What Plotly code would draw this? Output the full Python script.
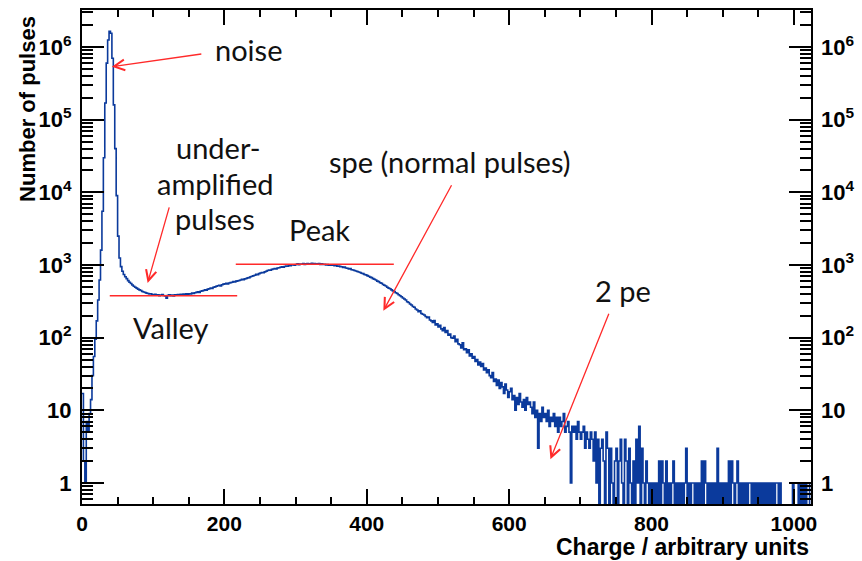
import numpy as np
import plotly.graph_objects as go

# ---------------- data ----------------
BIN_WIDTH = 2          # charge units per histogram bin
X_MAX = 1024
# counts per bin, 5 bins (10 charge units) per row
count_rows = [
    [17, 2, 1, 7, 5],                                   # 0-10
    [9, 14, 30, 55, 95],
    [170, 330, 620, 1600, 5500],
    [30000, 170000, 600000, 1250000, 1650000],
    [1550000, 700000, 160000, 40000, 9000],
    [2500, 1250, 950, 820, 740],                        # 50-60
    [690, 650, 610, 580, 555],
    [530, 510, 495, 480, 465],
    [455, 445, 432, 425, 418],
    [410, 405, 398, 400, 392],
    [388, 395, 383, 390, 378],                          # 100-110
    [386, 392, 380, 375, 350],
    [382, 388, 379, 385, 376],
    [390, 383, 392, 386, 395],
    [389, 398, 392, 400, 396],
    [402, 398, 410, 405, 415],                          # 150-160
    [420, 428, 418, 435, 440],
    [445, 455, 448, 465, 470],
    [482, 475, 495, 500, 510],
    [518, 525, 515, 535, 545],
    [550, 558, 548, 565, 572],                          # 200-210
    [580, 590, 582, 600, 605],
    [612, 620, 635, 628, 645],
    [652, 665, 670, 690, 700],
    [712, 722, 745, 738, 760],
    [775, 790, 782, 805, 820],                          # 250-260
    [840, 852, 845, 870, 880],
    [892, 885, 910, 918, 930],
    [942, 935, 955, 965, 960],
    [985, 975, 998, 1005, 990],
    [1015, 1040, 1010, 1030, 1025],                     # 300-310
    [1045, 1020, 1035, 1050, 1030],
    [1040, 1055, 1025, 1045, 1035],
    [1030, 1050, 1020, 1035, 1015],
    [1025, 1005, 1015, 995, 1010],
    [990, 1000, 975, 985, 960],                         # 350-360
    [970, 950, 945, 925, 935],
    [910, 900, 880, 890, 860],
    [855, 840, 825, 815, 800],
    [790, 770, 760, 740, 730],
    [715, 700, 680, 670, 650],                          # 400-410
    [635, 620, 600, 590, 570],
    [560, 540, 525, 515, 495],
    [480, 470, 455, 440, 430],
    [415, 405, 390, 378, 365],
    [352, 340, 330, 312, 305],                          # 450-460
    [290, 282, 268, 262, 248],
    [240, 228, 235, 215, 210],
    [205, 195, 188, 192, 175],
    [170, 162, 172, 150, 155],
    [140, 148, 132, 125, 138],                          # 500-510
    [118, 125, 108, 112, 100],
    [98, 105, 88, 95, 82],
    [80, 72, 85, 68, 70],
    [62, 68, 56, 60, 52],
    [55, 47, 50, 42, 46],                               # 550-560
    [40, 44, 36, 38, 33],
    [36, 30, 28, 33, 25],
    [27, 22, 26, 20, 24],
    [21, 17, 23, 19, 15],
    [18, 20, 14, 16, 10],                               # 600-610
    [15, 12, 17, 13, 11],
    [14, 10, 15, 12, 13],
    [11, 9, 13, 8, 10],
    [3, 9, 7, 11, 8],
    [9, 7, 10, 6, 8],                                   # 650-660
    [7, 9, 6, 8, 5],
    [8, 6, 7, 9, 5],
    [6, 7, 5, 1, 6],
    [5, 6, 4, 7, 5],
    [4, 5, 6, 3, 5],                                    # 700-710
    [4, 3, 5, 4, 2],
    [5, 1, 4, 0, 3],
    [4, 2, 0, 5, 3],
    [0, 3, 1, 0, 2],
    [3, 0, 2, 4, 1],                                    # 750-760
    [0, 4, 2, 0, 3],
    [1, 0, 2, 0, 4],
    [1, 6, 0, 3, 1],
    [0, 2, 1, 0, 1],
    [0, 1, 0, 1, 0],                                    # 800-810
    [2, 0, 2, 1, 0],
    [2, 0, 1, 0, 1],
    [2, 0, 1, 0, 1],
    [0, 1, 0, 1, 3],
    [0, 1, 0, 1, 1],                                    # 850-860
    [0, 1, 0, 1, 0],
    [2, 0, 2, 1, 0],
    [1, 0, 1, 0, 1],
    [0, 3, 0, 1, 0],
    [1, 0, 1, 0, 2],                                    # 900-910
    [0, 2, 1, 0, 1],
    [2, 0, 1, 0, 1],
    [0, 1, 0, 1, 1],
    [0, 1, 0, 1, 0],
    [1, 0, 1, 0, 1],                                    # 950-960
    [0, 1, 0, 1, 0],
    [1, 0, 1, 1, 0],
    [1, 0, 0, 0, 0],
    [0, 0, 0, 0, 1],
    [0, 0, 0, 1, 0],                                    # 1000-1010
    [1, 0, 1, 0, 1],
    [1, 0],                                             # 1020-1024
]

x_tick_vals = [0, 200, 400, 600, 800, 1000]
x_tick_text = ["0", "200", "400", "600", "800", "1000"]
y_tick_vals = [1, 10, 100, 1000, 10000, 100000, 1000000]
y_tick_text = ["1", "10", "10<sup>2</sup>", "10<sup>3</sup>", "10<sup>4</sup>",
               "10<sup>5</sup>", "10<sup>6</sup>"]

peak_level = 1025
peak_x = [216, 438]
valley_level = 376
valley_x = [39, 218]

# ---------------- build ----------------
counts = np.array([v for row in count_rows for v in row], dtype=float)
edges = np.arange(0, X_MAX + BIN_WIDTH, BIN_WIDTH)
assert len(counts) == len(edges) - 1, (len(counts), len(edges))

y_draw = np.where(counts > 0, counts, 0.05)   # empty bins drop to the bottom
xs = np.append(edges[:-1], edges[-1])
ys = np.append(y_draw, y_draw[-1])

BLUE = "#0b3a9c"
RED = "#ff2a2a"

fig = go.Figure()
fig.add_trace(go.Scatter(x=xs, y=ys, mode="lines", line=dict(color=BLUE, width=1.6, shape="hv"),
                         hoverinfo="skip", showlegend=False))
fig.add_trace(go.Scatter(x=xs, y=ys, mode="lines", line=dict(color=BLUE, width=0), opacity=0,
                         yaxis="y2", hoverinfo="skip", showlegend=False))
fig.add_trace(go.Scatter(x=peak_x, y=[peak_level, peak_level], mode="lines",
                         line=dict(color=RED, width=1.5), hoverinfo="skip", showlegend=False))
fig.add_trace(go.Scatter(x=valley_x, y=[valley_level, valley_level], mode="lines",
                         line=dict(color=RED, width=1.5), hoverinfo="skip", showlegend=False))

L, R, T, B = 82, 815, 8, 504
W, H = 862, 561


def pp(xp, yp):
    return (xp - L) / (R - L), (B - yp) / (B - T)


TXT_FONT = dict(family="Lato, Open Sans, sans-serif", size=29, color="#111111")
annotations = []


def label(text, cx, cy):
    x, y = pp(cx, cy)
    annotations.append(dict(text=text, x=x, y=y, xref="paper", yref="paper",
                            xanchor="center", yanchor="middle", showarrow=False, font=TXT_FONT))


def arrow(tip, tail):
    x, y = pp(*tip)
    annotations.append(dict(text="", x=x, y=y, xref="paper", yref="paper", showarrow=True,
                            ax=tail[0] - tip[0], ay=tail[1] - tip[1], arrowhead=5,
                            arrowsize=1.6, arrowwidth=1.3, arrowcolor=RED))


label("noise", 249, 48)
label("under-", 219, 146)
label("amplified", 216, 182)
label("pulses", 216, 217)
label("Peak", 321, 228)
label("Valley", 171, 327)
label("spe (normal pulses)", 452, 160)
label("2 pe", 626, 290)

arrow((112, 65), (203, 52))
arrow((148, 282), (170, 205))
arrow((385, 310), (454, 183))
arrow((553, 459), (612, 312))

AX_FONT_X = dict(family="Liberation Sans, Arial, sans-serif", size=23, color="black", weight="bold")
AX_FONT_Y = dict(family="Liberation Sans, Arial, sans-serif", size=22, color="black", weight="bold")
tx, ty = pp(815, 547)
annotations.append(dict(text="Charge / arbitrary units", x=tx, y=ty, xref="paper", yref="paper",
                        xanchor="right", yanchor="middle", showarrow=False, font=AX_FONT_X))
tx, ty = pp(27, 107)
annotations.append(dict(text="Number of pulses", x=tx, y=ty, xref="paper", yref="paper",
                        xanchor="center", yanchor="middle", textangle=-90, showarrow=False,
                        font=AX_FONT_Y))

x_minor = [v for v in range(50, 1024, 50) if v % 200]
y_minor = [m * 10 ** d for d in range(-1, 7) for m in range(2, 10)
           if 10 ** -0.29 < m * 10 ** d < 10 ** 6.51]

TICK_FONT_X = dict(family="Liberation Sans, Arial, sans-serif", size=21, color="black", weight="bold")
TICK_FONT_Y = dict(family="Liberation Sans, Arial, sans-serif", size=22, color="black", weight="bold")
YRANGE = [-0.29, 6.51]

fig.update_layout(
    width=W, height=H,
    margin=dict(l=L, r=W - R, t=T, b=H - B),
    paper_bgcolor="white", plot_bgcolor="white",
    xaxis=dict(range=[0, X_MAX], tickmode="array", tickvals=x_tick_vals, ticktext=x_tick_text,
               ticks="inside", ticklen=15, tickwidth=1.5, tickcolor="black",
               minor=dict(tickmode="array", tickvals=x_minor, ticks="inside", ticklen=7,
                          tickwidth=1.5, tickcolor="black"),
               showline=True, linecolor="black", linewidth=2, mirror="ticks",
               showgrid=False, zeroline=False, tickfont=TICK_FONT_X, ticklabelstandoff=0),
    yaxis=dict(type="log", range=YRANGE, tickmode="array", tickvals=y_tick_vals,
               ticktext=y_tick_text, ticks="inside", ticklen=22, tickwidth=1.5, tickcolor="black",
               minor=dict(tickmode="array", tickvals=y_minor, ticks="inside", ticklen=11,
                          tickwidth=1.5, tickcolor="black"),
               showline=True, linecolor="black", linewidth=2, mirror="ticks",
               showgrid=False, zeroline=False, tickfont=TICK_FONT_Y, ticklabelstandoff=4),
    yaxis2=dict(type="log", range=YRANGE, overlaying="y", side="right", tickmode="array",
                tickvals=y_tick_vals, ticktext=y_tick_text, ticks="", showline=False,
                showgrid=False, zeroline=False, tickfont=TICK_FONT_Y, ticklabelstandoff=9),
    annotations=annotations,
)

fig.write_html("out.html")
